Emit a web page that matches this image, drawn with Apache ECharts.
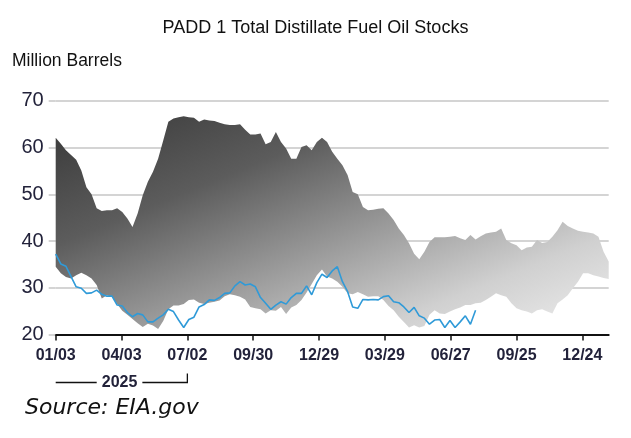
<!DOCTYPE html>
<html>
<head>
<meta charset="utf-8">
<script src="https://cdn.jsdelivr.net/npm/echarts@6/dist/echarts.min.js"></script>
<style>
  html, body { margin: 0; padding: 0; background: #fff; }
  #chart { width: 631px; height: 438px; }
</style>
</head>
<body>
<div id="chart"></div>
<script>
// weekly points, 7 days apart, starting at 01/03
const weekDays = 7
const tickLabels = ['01/03', '04/03', '07/02', '09/30', '12/29', '03/29', '06/27', '09/25', '12/24']
const tickStep = 90

// 5-year range, upper edge
const rangeHigh = [
    62.1, 60.8, 59.4, 58.4, 57.4, 55.1, 51.5, 50.0, 47.0, 46.4,
    46.6, 46.6, 47.0, 46.2, 44.8, 43.0, 45.9, 49.8, 52.7, 54.8,
    57.6, 61.5, 65.5, 66.2, 66.5, 66.7, 66.5, 66.4, 65.5, 66.0,
    65.8, 65.7, 65.3, 65.0, 64.8, 64.8, 65.0, 63.8, 62.8, 62.8,
    63.0, 60.7, 61.2, 63.3, 61.2, 59.8, 57.6, 57.6, 60.1, 60.5,
    59.4, 61.2, 62.1, 61.2, 59.1, 57.6, 56.2, 54.1, 50.5, 50.0,
    47.3, 46.6, 46.7, 46.9, 47.0, 45.9, 44.5, 42.7, 41.3, 39.5,
    37.3, 36.1, 37.7, 39.8, 40.8, 40.8, 40.8, 40.9, 41.1, 40.6,
    40.2, 41.3, 40.3, 41.0, 41.6, 41.8, 42.0, 42.7, 40.2, 39.5,
    39.1, 38.0, 38.6, 38.8, 40.2, 39.6, 39.8, 40.9, 42.3, 44.1,
    43.2, 42.7, 42.2, 42.0, 41.8, 41.6, 40.9, 37.7, 35.6
]

// 5-year range, lower edge
const rangeLow = [
    34.5, 33.1, 32.3, 32.0, 32.7, 33.2, 32.7, 32.0, 30.6, 27.7,
    28.4, 28.0, 26.5, 25.1, 24.2, 23.3, 22.4, 21.6, 22.3, 21.9,
    21.2, 22.9, 25.4, 26.2, 26.2, 26.5, 27.4, 27.5, 26.8, 26.5,
    26.8, 27.0, 27.3, 28.2, 28.6, 28.4, 28.1, 27.5, 25.9, 25.6,
    25.4, 24.5, 25.2, 25.1, 25.9, 24.4, 25.8, 26.3, 27.4, 29.0,
    30.8, 32.7, 33.9, 32.4, 32.0, 31.3, 30.2, 28.8, 28.6, 29.1,
    28.6, 28.1, 28.2, 28.2, 27.4, 26.1, 25.2, 23.8, 22.7, 21.5,
    22.0, 21.5, 21.8, 24.2, 25.2, 24.5, 24.4, 24.9, 25.4, 25.8,
    26.3, 26.3, 26.7, 26.8, 27.4, 28.1, 28.8, 28.4, 28.1, 26.7,
    25.6, 25.2, 24.9, 24.5, 25.2, 25.4, 24.9, 24.5, 26.7, 27.5,
    28.4, 29.9, 31.3, 33.1, 33.1, 32.7, 32.4, 32.1, 31.9
]

// 2025 onward stocks
const stocks = [
    37.2, 35.1, 34.6, 32.4, 30.2, 29.9, 28.8, 28.9, 29.5, 28.6,
    28.2, 28.2, 26.3, 26.1, 24.7, 23.8, 24.5, 24.2, 22.7, 22.7,
    23.5, 24.2, 25.4, 24.9, 23.1, 21.5, 23.2, 23.7, 25.9, 26.4,
    27.4, 27.3, 27.9, 28.8, 28.9, 30.4, 31.3, 30.6, 30.8, 30.2,
    27.9, 26.7, 25.4, 26.3, 27.0, 26.5, 27.9, 28.8, 28.8, 30.4,
    28.5, 31.1, 32.9, 32.2, 33.6, 34.5, 31.3, 29.2, 25.9, 25.6,
    27.5, 27.4, 27.5, 27.4, 28.1, 28.3, 27.0, 26.8, 25.9, 24.7,
    25.8, 24.0, 23.5, 22.2, 23.1, 23.2, 21.5, 23.0, 21.5, 22.7,
    24.0, 22.2, 25.2
]

const tickValues = tickLabels.map((t, i) => i * tickStep)
const lastDay = (rangeHigh.length - 1) * weekDays

let chart = echarts.init(document.getElementById('chart'))

// band between low and high, one polygon through the axis scales
function renderRange(params, api) {
    if (params.dataIndex !== 0) return
    let pts = []
    for (let i = 0; i < rangeHigh.length; i++) {
        pts.push(api.coord([i * weekDays, rangeHigh[i]]))
    }
    for (let i = rangeLow.length - 1; i >= 0; i--) {
        pts.push(api.coord([i * weekDays, rangeLow[i]]))
    }
    return {
        type: 'polygon',
        shape: { points: pts },
        style: {
            fill: new echarts.graphic.LinearGradient(0, 0, 0.27, 1.73, [
                { offset: 0, color: '#383838' },
                { offset: 0.3, color: '#5c5c5c' },
                { offset: 0.6, color: '#a2a2a2' },
                { offset: 0.8, color: '#d0d0d0' },
                { offset: 1, color: '#ebebeb' }
            ])
        }
    }
}

let option = {
    animation: false,
    title: [{
            text: 'PADD 1 Total Distillate Fuel Oil Stocks',
            left: 'center',
            top: 19,
            padding: 0,
            textStyle: {
                fontFamily: 'Liberation Sans',
                fontSize: 18,
                fontWeight: 'normal',
                color: '#111'
            }
        },
        {
            text: 'Million Barrels',
            left: 12,
            top: 52,
            padding: 0,
            textStyle: {
                fontFamily: 'Liberation Sans',
                fontSize: 17.5,
                fontWeight: 'normal',
                color: '#111'
            }
        }
    ],
    grid: {
        left: 55.7,
        right: 22.3,
        top: 100.8,
        bottom: 103.5
    },
    xAxis: {
        type: 'value',
        min: 0,
        max: lastDay,
        interval: tickStep,
        splitLine: { show: false },
        axisLine: {
            onZero: false,
            lineStyle: { color: '#111', width: 2 }
        },
        axisTick: {
            length: 6,
            customValues: tickValues,
            lineStyle: { color: '#111', width: 1.5 }
        },
        axisLabel: {
            customValues: tickValues,
            margin: 13,
            fontFamily: 'Liberation Sans',
            fontSize: 16,
            fontWeight: 'bold',
            color: '#22223a',
            formatter(v) {
                return tickLabels[Math.round(v / tickStep)] || ''
            }
        }
    },
    yAxis: {
        type: 'value',
        min: 20,
        max: 70,
        interval: 10,
        axisLine: { show: false },
        axisTick: {
            show: true,
            length: 7,
            lineStyle: { color: '#c6c6c6', width: 1.5 }
        },
        splitLine: {
            lineStyle: { color: '#c6c6c6', width: 1.5 }
        },
        axisLabel: {
            margin: 12,
            fontFamily: 'Liberation Sans',
            fontSize: 20,
            color: '#22223a'
        }
    },
    series: [{
            type: 'custom',
            silent: true,
            renderItem: renderRange,
            encode: { x: 0, y: 1 },
            data: rangeHigh.map((v, i) => [i * weekDays, v])
        },
        {
            type: 'line',
            symbol: 'none',
            lineStyle: { color: '#2f9ad8', width: 1.6 },
            data: stocks.map((v, i) => [i * weekDays, v])
        }
    ]
}

chart.setOption(option)

// "2025" bracket under the first half-year of labels
let x0 = chart.convertToPixel({ xAxisIndex: 0 }, tickValues[0])
let x1 = chart.convertToPixel({ xAxisIndex: 0 }, tickValues[2])
let by = 382.5
chart.setOption({
    graphic: [{
            type: 'polyline',
            shape: { points: [[x0, by], [x0 + 41, by]] },
            style: { stroke: '#111', lineWidth: 1.3 }
        },
        {
            type: 'polyline',
            shape: { points: [[x1 - 45, by], [x1, by], [x1, by - 9]] },
            style: { stroke: '#111', lineWidth: 1.3 }
        },
        {
            type: 'text',
            x: (x0 + 41 + x1 - 45) / 2,
            y: by,
            style: {
                text: '2025',
                align: 'center',
                verticalAlign: 'middle',
                font: 'bold 16px "Liberation Sans"',
                fill: '#22223a'
            }
        },
        {
            type: 'text',
            x: 25,
            y: 408,
            style: {
                text: 'Source: EIA.gov',
                align: 'left',
                verticalAlign: 'middle',
                font: 'italic 22px "DejaVu Sans"',
                fill: '#111'
            }
        }
    ]
})
</script>
</body>
</html>
